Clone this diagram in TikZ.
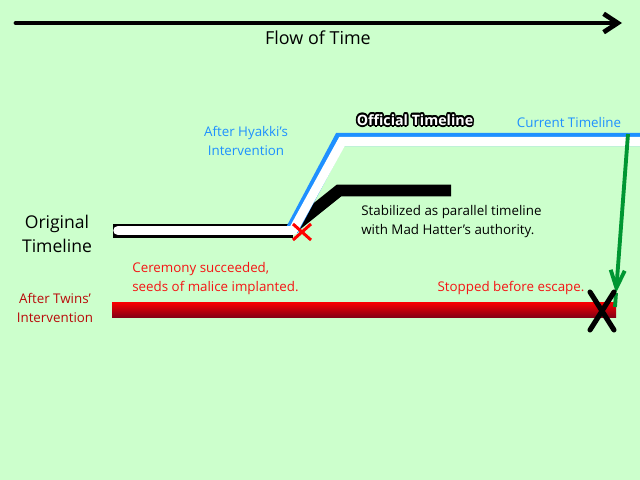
\documentclass[tikz,border=0pt]{standalone}
\usepackage{fontspec}
\setmainfont{Open Sans}
\usetikzlibrary{arrows.meta}

\definecolor{bgGreen}{RGB}{204,255,204}
\definecolor{hyakkiBlue}{RGB}{30,144,255}
\definecolor{twinsRed}{RGB}{185,10,10}
\definecolor{noteRed}{RGB}{245,20,20}
\definecolor{barTop}{RGB}{250,0,0}
\definecolor{barBot}{RGB}{135,0,20}
\definecolor{jumpGreen}{RGB}{0,150,50}

\tikzset{
  note/.style={inner sep=0pt, font=\fontsize{7.6}{10.8}\selectfont, align=left},
  bignote/.style={inner sep=0pt, font=\fontsize{10}{13.6}\selectfont, align=center},
  official/.style={inner sep=0pt, font=\fontsize{8.1}{9}\selectfont\bfseries},
}

\begin{document}
\begin{tikzpicture}[x=0.02cm, y=-0.02cm]
\fill[bgGreen] (0,0) rectangle (640,480);
\useasboundingbox (0,0) rectangle (640,480);

\coordinate (flowL) at (16,23);
\coordinate (flowR) at (622,23);
\coordinate (baseL) at (113,231);
\coordinate (baseR) at (293,231);
\coordinate (origL) at (118,230.5);
\coordinate (split) at (293,230.5);
\coordinate (branchStart) at (291,229);
\coordinate (branchUp) at (339,190.5);
\coordinate (branchEnd) at (451,190.5);
\coordinate (blueStart) at (292,230);
\coordinate (blueCorner) at (340,139.5);
\coordinate (whiteCorner) at (342,141.5);
\coordinate (curBlue) at (640,139.5);
\coordinate (curEnd) at (640,141.5);
\coordinate (jumpStart) at (628,134);
\coordinate (jumpTip) at (616,293);
\coordinate (jumpEnd) at (615,307);
\coordinate (twinsL) at (112,302);
\coordinate (twinsR) at (616,317);
\coordinate (cutMark) at (302,232);
\coordinate (stopMark) at (602,311);

\draw[line width=2.7pt, line cap=round, -{Straight Barb[length=8pt, width=10.5pt]}] (flowL) -- (flowR);
\node[bignote, font=\fontsize{10.2}{12}\selectfont] (flow) at (318,38) {Flow of Time};

\draw[line width=7.9pt] (baseL) -- (baseR);
\draw[line width=6.8pt] (branchStart) -- (branchUp) -- (branchEnd);
\draw[hyakkiBlue, line width=7.4pt] (blueStart) -- (blueCorner) -- (curBlue);
\draw[white, line width=5.4pt, line cap=round] (origL) -- (split);
\draw[white, line width=5.2pt] (split) -- (whiteCorner) -- (curEnd);

\draw[red, line width=1.7pt] (cutMark) ++(-9,-8) -- ++(18,16) (cutMark) ++(9,-8) -- ++(-18,16);

\shade[top color=barTop, bottom color=barBot] (twinsL) rectangle (twinsR);

\draw[jumpGreen, line width=2.2pt, -{Straight Barb[length=10pt, width=8pt]}] (jumpStart) -- (jumpTip);
\draw[jumpGreen, line width=2.2pt] (jumpTip) -- (jumpEnd);
\draw[line width=2.9pt, line cap=round] (stopMark) ++(-12,-19) -- ++(24,38) (stopMark) ++(12,-19) -- ++(-24,38);

\node[bignote] (orig) at (57,234) {Original\\Timeline};
\node[note, align=center, text=twinsRed] (twins) at (55,308) {After Twins'\\Intervention};
\node[note, align=center, text=hyakkiBlue] (hyakki) at (246,141) {After Hyakki's\\Intervention};
\node[note, text=hyakkiBlue] (current) at (569,122) {Current Timeline};
\node[note, text=noteRed, anchor=west] (ceremony) at (132,279) {Ceremony succeeded,\\seeds of malice implanted.};
\node[note, text=noteRed] (stopped) at (511,288) {Stopped before escape.};
\node[note, anchor=west] (stable) at (361,222) {Stabilized as parallel timeline\\with Mad Hatter's authority.};

\foreach \a in {0,30,...,330}
  \node[official, text=black, xshift={0.95pt*cos(\a)}, yshift={0.95pt*sin(\a)}] at (415,120) {Official Timeline};
\node[official, text=white] (offic) at (415,120) {Official Timeline};
\end{tikzpicture}
\end{document}
